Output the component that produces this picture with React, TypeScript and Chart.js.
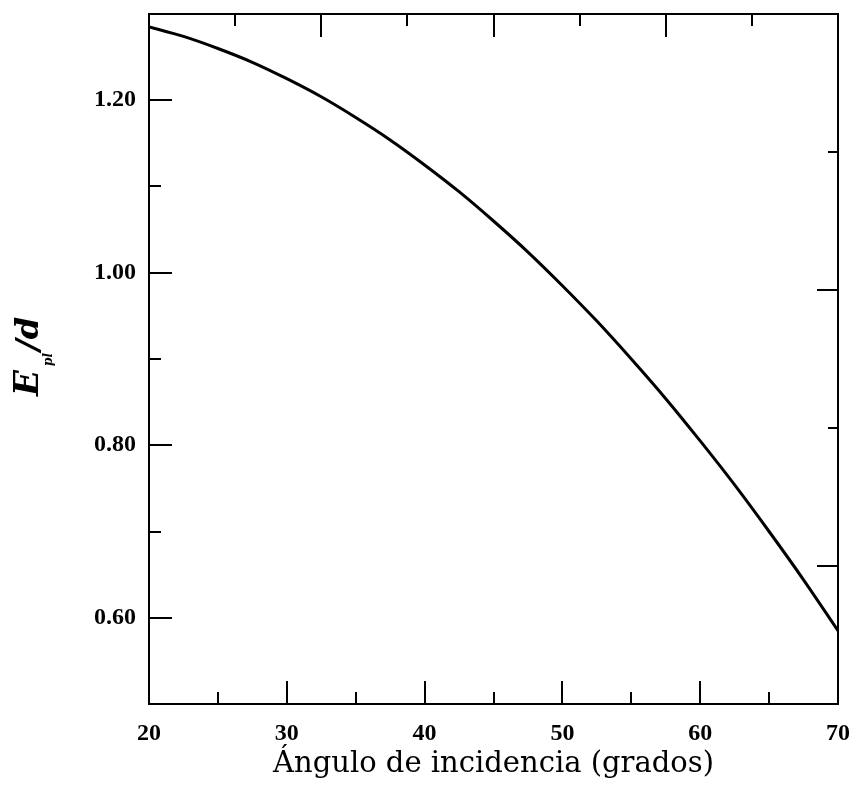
import React, { useEffect, useRef } from 'react';
import { Chart, registerables } from 'chart.js';

Chart.register(...registerables);

// Angle of incidence (degrees)
const angles = [20, 22.5, 25, 27.5, 30, 32.5, 35, 37.5, 40, 42.5, 45, 47.5, 50, 52.5, 55, 57.5, 60, 62.5, 65, 67.5, 70];
// E_pl / d
const eplOverD = [1.285, 1.274, 1.26, 1.244, 1.225, 1.204, 1.18, 1.154, 1.125, 1.094, 1.06, 1.024, 0.985, 0.944, 0.9, 0.854, 0.805, 0.754, 0.7, 0.644, 0.585];

const xTickLabels = ['20', '30', '40', '50', '60', '70'];
const yTickLabels = ['0.60', '0.80', '1.00', '1.20'];
const xTitle = 'Ángulo de incidencia (grados)';

const tickFont = { family: 'Liberation Serif', size: 24, weight: 'bold' as const };

const zeroPad = (s: any) => {
  s.paddingTop = 0;
  s.paddingBottom = 0;
  s.paddingLeft = 0;
  s.paddingRight = 0;
};

const inwardTicks = {
  id: 'inwardTicks',
  afterDraw(chart: any) {
    const ctx = chart.ctx;
    const a = chart.chartArea;
    ctx.save();
    ctx.strokeStyle = '#000';
    ctx.lineWidth = 2;
    const draw = (id: string, isMajor: (v: number) => boolean, majorLen: number, minorLen: number) => {
      const s = chart.scales[id];
      s.ticks.forEach((t: any) => {
        const v = t.value;
        if (v <= s.min + 1e-9 || v >= s.max - 1e-9) return;
        const p = Math.round(s.getPixelForValue(v));
        const len = isMajor(v) ? majorLen : minorLen;
        ctx.beginPath();
        if (id === 'x') { ctx.moveTo(p, a.bottom); ctx.lineTo(p, a.bottom - len); }
        else if (id === 'x2') { ctx.moveTo(p, a.top); ctx.lineTo(p, a.top + len); }
        else if (id === 'y') { ctx.moveTo(a.left, p); ctx.lineTo(a.left + len, p); }
        else { ctx.moveTo(a.right, p); ctx.lineTo(a.right - len, p); }
        ctx.stroke();
      });
    };
    draw('x', (v) => Math.round(v) % 10 === 0, 23, 12);
    draw('x2', (v) => Math.round(v) % 2 === 0, 23, 12);
    draw('y', (v) => Math.round(v * 10) % 2 === 0, 23, 12);
    draw('y2', (v) => Math.round(v) % 2 === 1, 21, 10);

    // x title
    ctx.fillStyle = '#000';
    ctx.font = '29px "DejaVu Serif"';
    ctx.textAlign = 'center';
    ctx.textBaseline = 'alphabetic';
    ctx.fillText(xTitle, (a.left + a.right) / 2, 772);

    // y title: E_pl /d rotated
    ctx.translate(28, 358);
    ctx.rotate(-Math.PI / 2);
    ctx.textAlign = 'left';
    ctx.font = 'italic bold 34px "DejaVu Serif"';
    ctx.fillText('E', -38, 10);
    ctx.font = 'italic bold 12px "DejaVu Serif"';
    ctx.fillText('pl', -8, 24);
    ctx.font = 'italic bold 32px "DejaVu Serif"';
    ctx.fillText('/d', 7, 10);
    ctx.restore();
  },
};

export default function App() {
  const ref = useRef<HTMLCanvasElement | null>(null);
  useEffect(() => {
    if (!ref.current) return;
    const data = angles.map((x, i) => ({ x, y: eplOverD[i] }));
    const chart = new Chart(ref.current, {
      type: 'line',
      data: {
        datasets: [
          {
            data,
            borderColor: '#000',
            borderWidth: 3,
            pointRadius: 0,
            fill: false,
            cubicInterpolationMode: 'monotone',
            xAxisID: 'x',
            yAxisID: 'y',
          },
        ],
      },
      options: {
        animation: false,
        responsive: false,
        maintainAspectRatio: false,
        layout: { padding: 0, autoPadding: false },
        plugins: { legend: { display: false }, tooltip: { enabled: false } },
        scales: {
          x: {
            type: 'linear',
            position: 'bottom',
            min: 20,
            max: 70,
            grid: { display: false, drawTicks: false },
            border: { display: true, color: '#000', width: 2 },
            ticks: {
              stepSize: 5,
              padding: 15,
              color: '#000',
              font: tickFont,
              maxRotation: 0,
              autoSkip: false,
              callback: (v: any) => {
                const s = String(Math.round(Number(v)));
                return xTickLabels.includes(s) ? s : '';
              },
            },
            afterFit: (s: any) => { s.height = 83; zeroPad(s); },
          },
          x2: {
            type: 'linear',
            position: 'top',
            min: 0,
            max: 8,
            grid: { display: false, drawTicks: false },
            border: { display: true, color: '#000', width: 2 },
            ticks: { stepSize: 1, display: false },
            afterFit: (s: any) => { s.height = 14; zeroPad(s); },
          },
          y: {
            type: 'linear',
            position: 'left',
            min: 0.5,
            max: 1.3,
            grid: { display: false, drawTicks: false },
            border: { display: true, color: '#000', width: 2 },
            ticks: {
              stepSize: 0.1,
              padding: 13,
              color: '#000',
              font: tickFont,
              autoSkip: false,
              callback: (v: any) => {
                const s = Number(v).toFixed(2);
                return yTickLabels.includes(s) ? s : '';
              },
            },
            afterFit: (s: any) => { s.width = 149; zeroPad(s); },
          },
          y2: {
            type: 'linear',
            position: 'right',
            min: 0,
            max: 5,
            grid: { display: false, drawTicks: false },
            border: { display: true, color: '#000', width: 2 },
            ticks: { stepSize: 1, display: false },
            afterFit: (s: any) => { s.width = 18; zeroPad(s); },
          },
        },
      },
      plugins: [inwardTicks],
    } as any);
    return () => chart.destroy();
  }, []);
  return (
    <div style={{ position: 'fixed', left: 0, top: 0, width: 856, height: 787, background: '#fff' }}>
      <canvas ref={ref} width={856} height={787} style={{ display: 'block' }} />
    </div>
  );
}
